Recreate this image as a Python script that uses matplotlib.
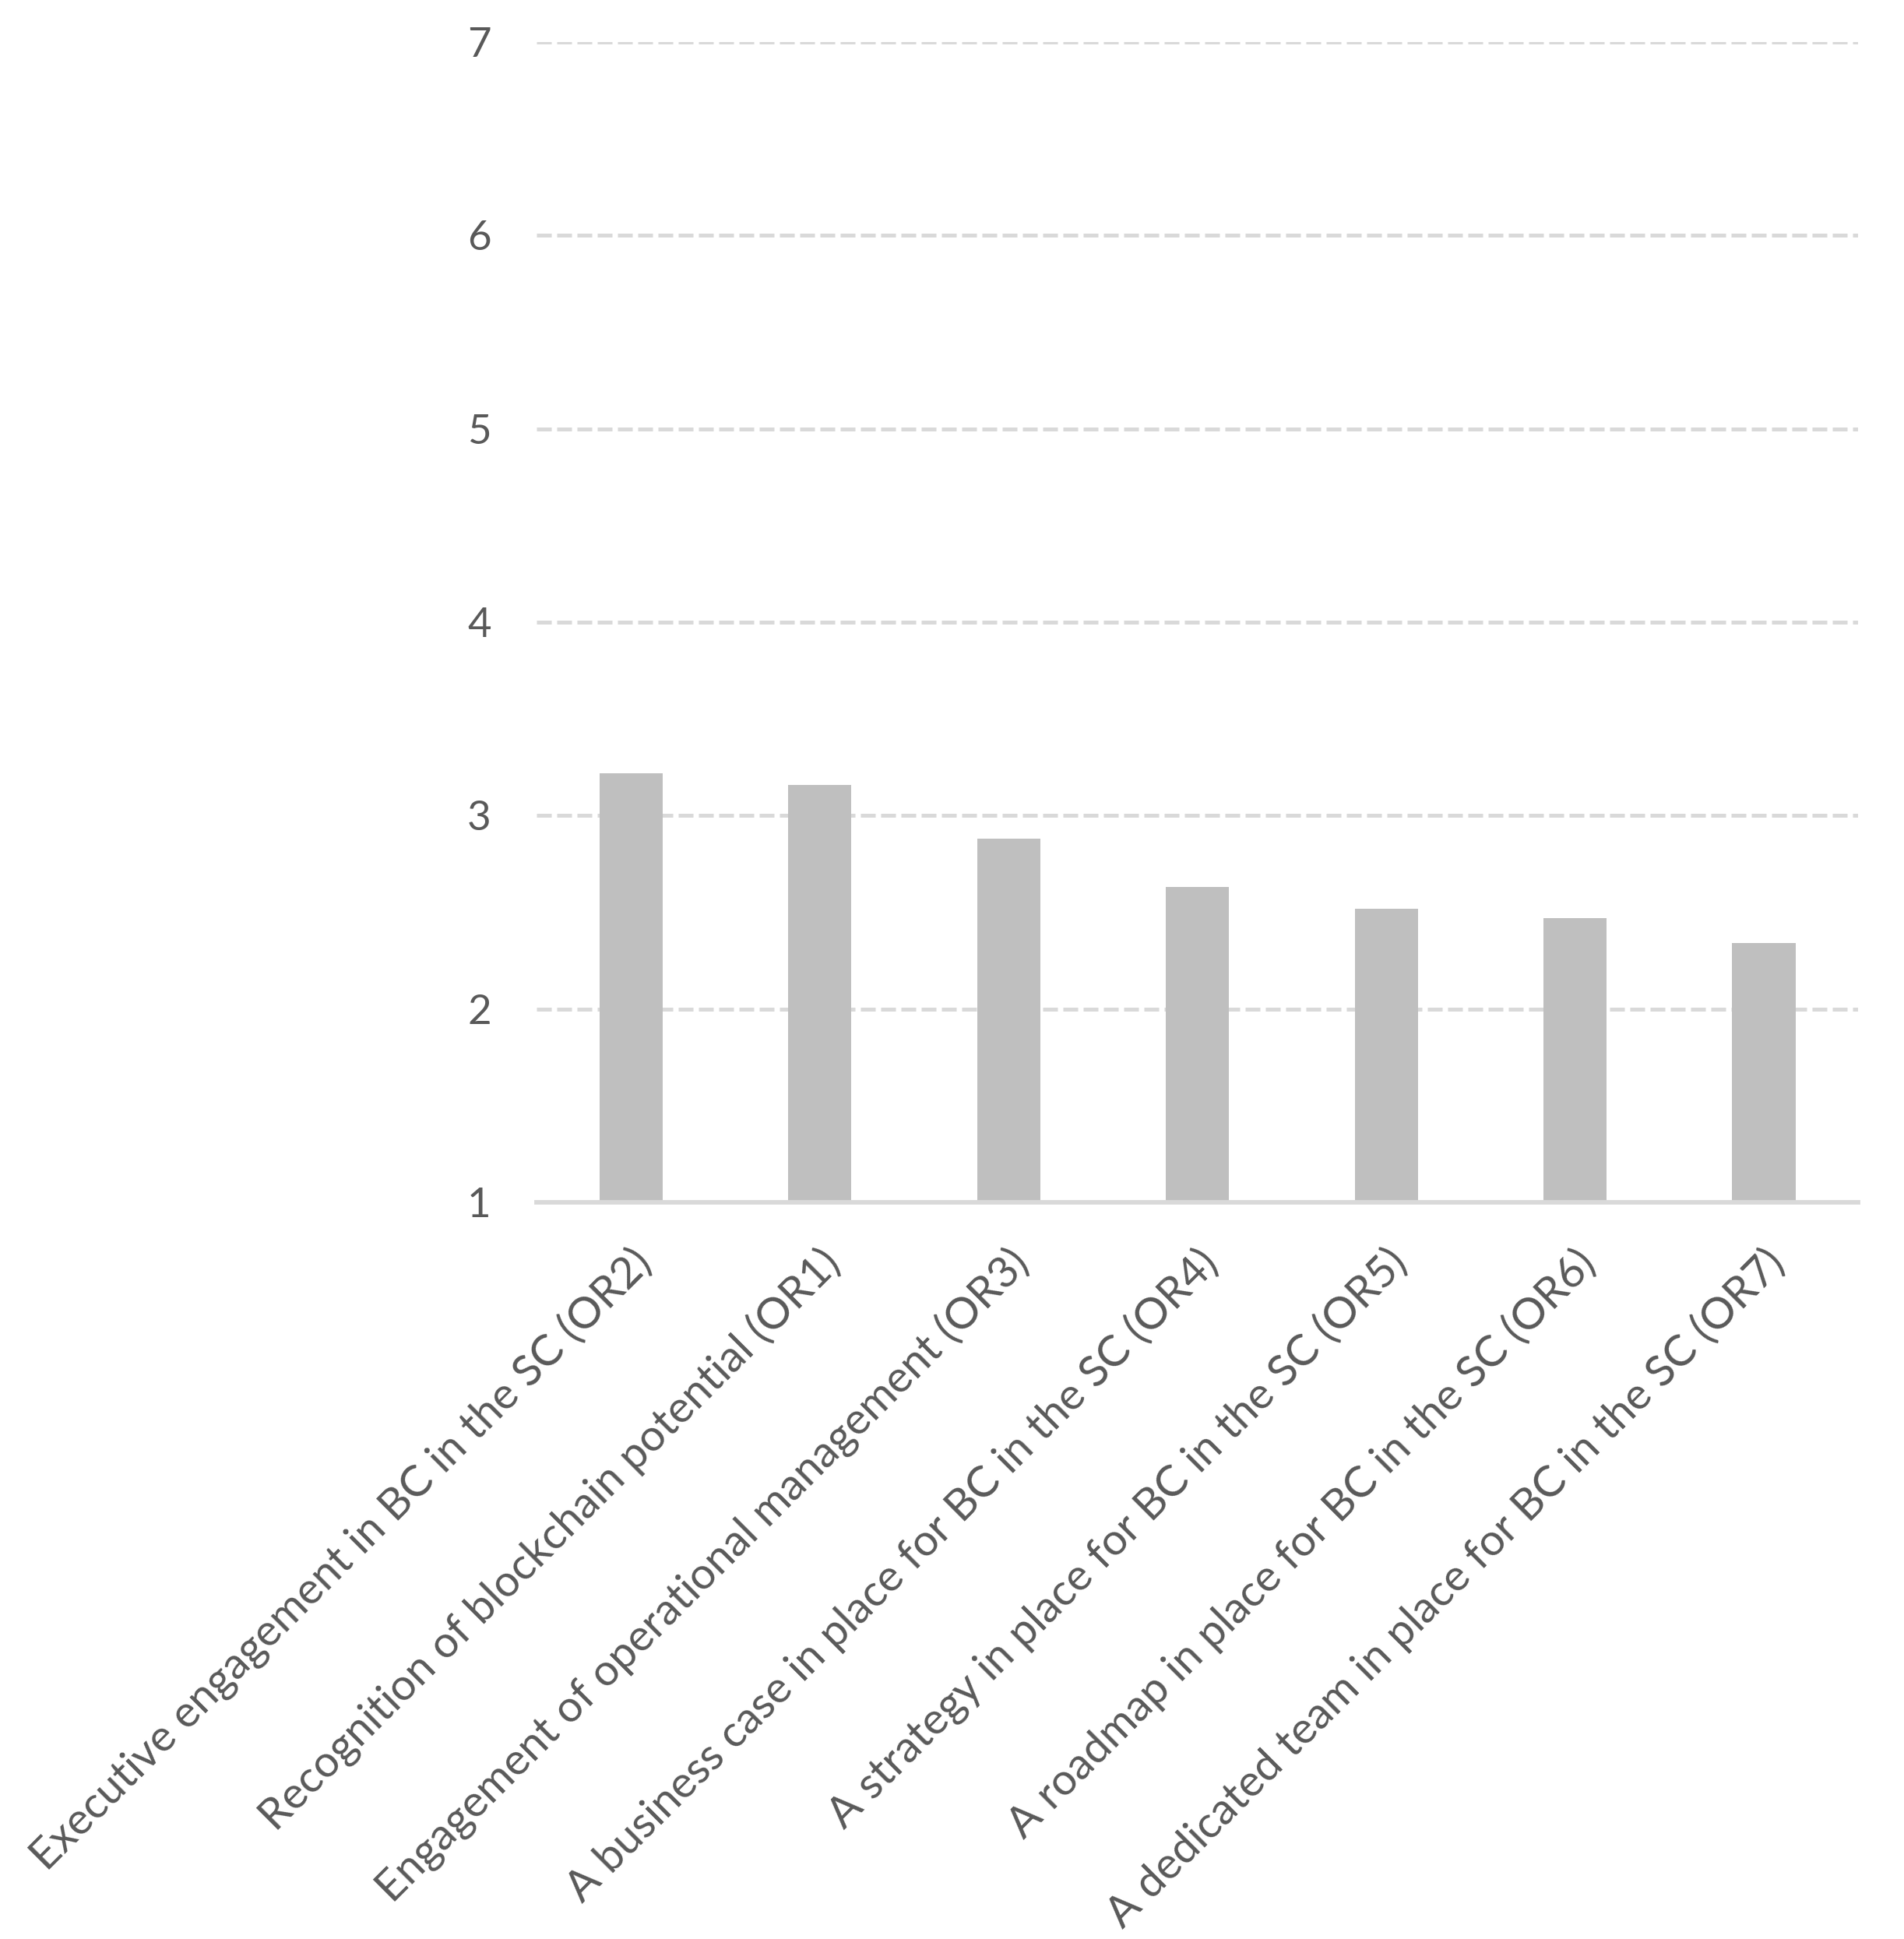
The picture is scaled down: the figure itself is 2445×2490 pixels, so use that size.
import numpy as np
import matplotlib.pyplot as plt
from matplotlib.transforms import ScaledTranslation

labels = ['Executive engagement in BC in the SC (OR2)',
          'Recognition of blockchain potential (OR1)',
          'Engagement of operational management (OR3)',
          'A business case in place for BC in the SC (OR4)',
          'A strategy in place for BC in the SC (OR5)',
          'A roadmap in place for BC in the SC (OR6)',
          'A dedicated team in place for BC in the SC (OR7)']
values = [3.22, 3.16, 2.88, 2.63, 2.52, 2.47, 2.34]
yticks = [1, 2, 3, 4, 5, 6, 7]

if __name__ == '__main__':
    plt.rcParams['font.family'] = ['Lato', 'DejaVu Sans']
    fig = plt.figure(figsize=(24.45, 24.9), dpi=100)
    ax = fig.add_axes([0.2818, 0.3799, 0.6942, 0.5984])

    x = np.arange(len(labels))
    ax.bar(x, np.array(values) - 1, bottom=1, width=0.335, color='#BFBFBF', zorder=3)

    ax.set_xlim(-0.5, len(labels) - 0.5)
    ax.set_ylim(1, 7)
    ax.set_yticks(yticks)
    ax.yaxis.grid(True, color='#D9D9D9', linewidth=3.6, dashes=(3.8, 1.4), zorder=0)
    ax.set_axisbelow(True)

    for s in ['top', 'right', 'left']:
        ax.spines[s].set_visible(False)
    ax.spines['bottom'].set_color('#D9D9D9')
    ax.spines['bottom'].set_linewidth(4.2)
    ax.spines['bottom'].set_zorder(4)

    ax.tick_params(axis='y', length=0, pad=42, labelsize=38, labelcolor='#595959')
    ax.tick_params(axis='x', length=0, pad=50, labelsize=40.5, labelcolor='#595959')
    ax.set_xticks(x)
    ax.set_xticklabels(labels, rotation=45, ha='right', va='center', rotation_mode='anchor')
    off = ScaledTranslation(18 / 100, 0, fig.dpi_scale_trans)
    for t in ax.get_xticklabels():
        t.set_transform(t.get_transform() + off)

    fig.savefig('out.png', dpi=100, facecolor='white')
